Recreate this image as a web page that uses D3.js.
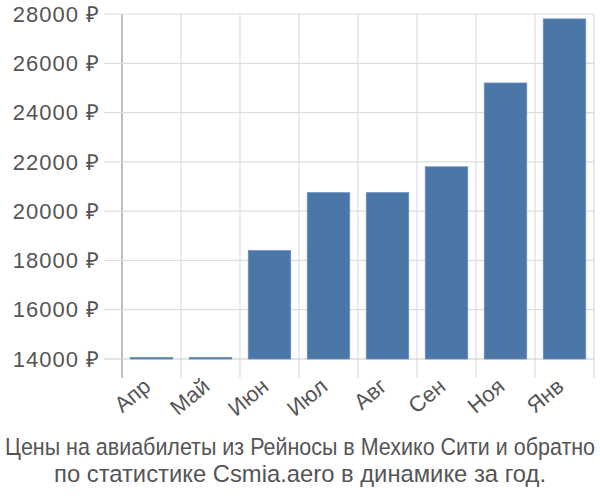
<!DOCTYPE html>
<html><head><meta charset="utf-8">
<script src="https://cdn.jsdelivr.net/npm/d3@7"></script>
<style>body{margin:0;background:#fff}text{font-family:"Liberation Sans",Arial,sans-serif}</style>
</head><body>
<script>
const categories = ["Апр","Май","Июн","Июл","Авг","Сен","Ноя","Янв"];
const values = [14060,14060,18400,20750,20750,21800,25200,27800];
const yTicks = [14000,16000,18000,20000,22000,24000,26000,28000];
const titleLines = ["Цены на авиабилеты из Рейносы в Мехико Сити и обратно","по статистике Csmia.aero в динамике за год."];
const titleWidths = [590,492];

const W=600,H=500;
const svg=d3.select("body").append("svg").attr("width",W).attr("height",H);
const x=d3.scaleBand().domain(categories).range([122,594]).paddingInner(0.28).paddingOuter(0.14);
const y=d3.scaleLinear().domain([14000,28000]).range([359,14]);
const grid="#dddddd";
const step=x.step();
const edges=d3.range(categories.length+1).map(i=>122+i*step);
svg.append("g").selectAll("line").data(edges).join("line")
 .attr("x1",d=>d).attr("x2",d=>d).attr("y1",14).attr("y2",378)
 .attr("stroke",(d,i)=>i===0?"#aaaaaa":grid).attr("stroke-width",(d,i)=>i===0?1.5:1.2);
svg.append("g").selectAll("line").data(yTicks).join("line")
 .attr("x1",104).attr("x2",594).attr("y1",d=>y(d)).attr("y2",d=>y(d))
 .attr("stroke",(d,i)=>i===0?"#cccccc":grid).attr("stroke-width",1.2);
svg.append("g").selectAll("text").data(yTicks).join("text")
 .attr("x",100).attr("y",d=>y(d)).attr("dy","0.35em").attr("text-anchor","end")
 .attr("fill","#555").attr("font-size",22).attr("letter-spacing",1).text(d=>d+" ₽");
svg.append("g").selectAll("rect").data(values).join("rect")
 .attr("x",(d,i)=>x(categories[i])).attr("width",x.bandwidth())
 .attr("y",d=>y(d)).attr("height",d=>y(14000)-y(d))
 .attr("fill","#4a76a8").attr("stroke","#6b90bb").attr("stroke-width",0.8);
svg.append("g").selectAll("text").data(categories).join("text")
 .attr("transform",d=>`translate(${x(d)+x.bandwidth()/2-10},${376}) rotate(-40)`)
 .attr("text-anchor","end").attr("dy","0.75em")
 .attr("fill","#555").attr("font-size",22).text(d=>d);
svg.append("g").selectAll("text").data(titleLines).join("text")
 .attr("transform",(d,i)=>`translate(300,${455+i*27}) scale(1,1.09)`)
 .attr("text-anchor","middle")
 .attr("textLength",(d,i)=>titleWidths[i]).attr("lengthAdjust","spacingAndGlyphs")
 .attr("fill","#555").attr("font-size",21.5).text(d=>d);
</script>
</body></html>
